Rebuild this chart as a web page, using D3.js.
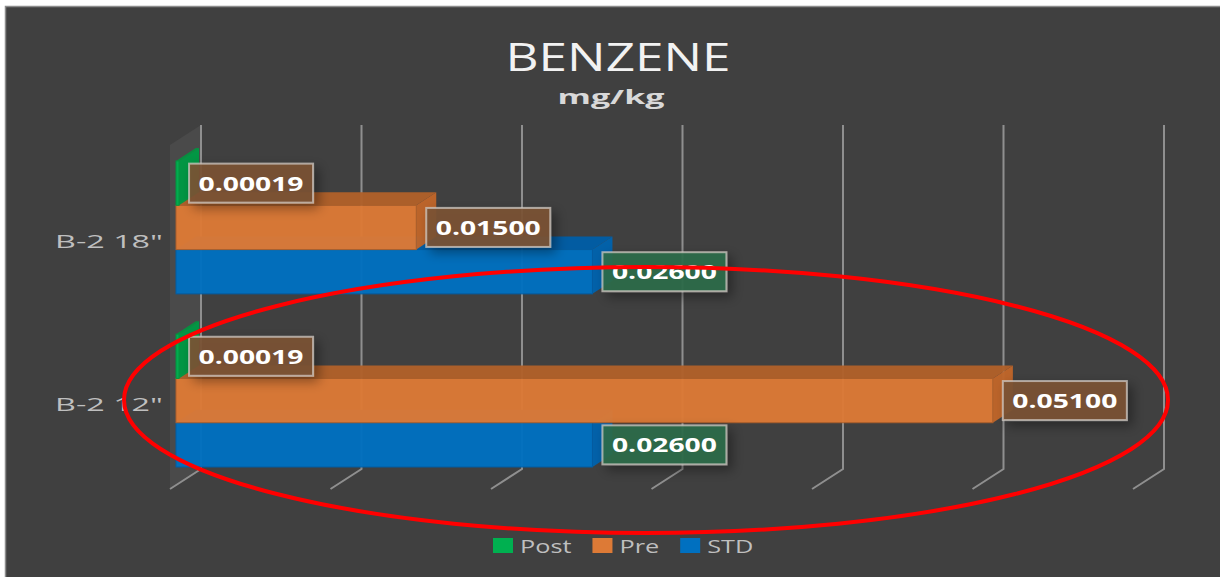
<!DOCTYPE html>
<html>
<head>
<meta charset="utf-8">
<script src="https://cdn.jsdelivr.net/npm/d3@7"></script>
<style>
body { margin: 0; background: #ffffff; }
text { font-family: "Open Sans", "DejaVu Sans", sans-serif; }
</style>
</head>
<body>
<svg id="chart" width="1220" height="577"></svg>
<script>
//Chart data
var categories = ['B-2 18"', 'B-2 12"'];
var series = ["Post", "Pre", "STD"];
var postValues = [0.00019, 0.00019];
var preValues = [0.015, 0.051];
var stdValues = [0.026, 0.026];
var valueDomain = [0, 0.06];
var chartTitle = "BENZENE";
var chartUnit = "mg/kg";

var seriesValues = { Post: postValues, Pre: preValues, STD: stdValues };
//front, top, side and label colours per series
var seriesColors = {
    Post: { front: "#00b050", top: "#00963f", side: "#009a44", label: "#7b5134" },
    Pre: { front: "#dd7a36", top: "#b1612a", side: "#c0662a", label: "#7b5134" },
    STD: { front: "#0070c0", top: "#005ea6", side: "#0063ae", label: "#2e6b4b" }
};

var svg = d3.select("#chart");

//background panel
svg.append("rect").attr("x", 5.5).attr("y", 6.5).attr("width", 1220).attr("height", 577)
    .attr("fill", "#404040").attr("stroke", "#8c8c8c").attr("stroke-width", 1.5);

//label shadow
var defs = svg.append("defs");
defs.append("filter").attr("id", "shadow").attr("x", "-20%").attr("y", "-40%").attr("width", "150%").attr("height", "200%")
    .append("feDropShadow").attr("dx", 5).attr("dy", 5).attr("stdDeviation", 6)
    .attr("flood-color", "#000").attr("flood-opacity", 0.4);

//scales: back wall for gridlines, front plane for bars
var depthX = 31, depthY = 20;      // floor depth
var barDX = 20, barDY = -13;       // bar depth
var xBack = d3.scaleLinear().domain(valueDomain).range([201, 1164]);
var xBar = d3.scaleLinear().domain(valueDomain).range([176, 1137]);
var yCat = d3.scaleBand().domain(categories).range([161, 467]).paddingInner(0.2326).paddingOuter(0);
var ySer = d3.scaleBand().domain(series).range([0, yCat.bandwidth()]);
var yLabel = d3.scalePoint().domain(categories).range([241, 404]);
var fmt = d3.format(".5f");

var wallTop = 125, wallBottom = 469;

//side wall
svg.append("path")
    .attr("d", "M" + xBack(0) + "," + wallTop + "L" + xBack(0) + "," + wallBottom +
        "L" + (xBack(0) - depthX) + "," + (wallBottom + depthY) + "L" + (xBack(0) - depthX) + "," + (wallTop + depthY) + "Z")
    .attr("fill", "#4a4a4a");

//gridlines
svg.append("g").selectAll("path").data(xBack.ticks(6)).enter().append("path")
    .attr("d", function(t) {
        var x = xBack(t);
        return "M" + x + "," + wallTop + "L" + x + "," + wallBottom + "L" + (x - depthX) + "," + (wallBottom + depthY);
    })
    .attr("fill", "none").attr("stroke", "#8f8f8f").attr("stroke-width", 2);

//bars, bottom series first so upper bars cover the top faces below
var bars = [];
categories.forEach(function(c, i) {
    series.slice().reverse().forEach(function(s) {
        bars.push({ cat: c, ser: s, value: seriesValues[s][i] });
    });
});

var barG = svg.append("g");
bars.forEach(function(d) {
    var x0 = xBar(0), x1 = xBar(d.value);
    var y0 = yCat(d.cat) + ySer(d.ser), h = ySer.bandwidth();
    var col = seriesColors[d.ser];
    var g = barG.append("g").attr("opacity", 0.96);
    g.append("path")
        .attr("d", "M" + x0 + "," + y0 + "L" + x1 + "," + y0 + "L" + (x1 + barDX) + "," + (y0 + barDY) + "L" + (x0 + barDX) + "," + (y0 + barDY) + "Z")
        .attr("fill", col.top);
    g.append("path")
        .attr("d", "M" + x1 + "," + y0 + "L" + x1 + "," + (y0 + h) + "L" + (x1 + barDX) + "," + (y0 + h + barDY) + "L" + (x1 + barDX) + "," + (y0 + barDY) + "Z")
        .attr("fill", col.side);
    g.append("rect").attr("x", x0).attr("y", y0).attr("width", x1 - x0).attr("height", h)
        .attr("fill", col.front).attr("stroke", col.top).attr("stroke-width", 1);
});

//data labels
var labelG = svg.append("g");
bars.forEach(function(d) {
    var bx = xBar(d.value) + 10, w = 124, hh = 39;
    var cy = yCat(d.cat) + ySer(d.ser) + ySer.bandwidth() / 2;
    labelG.append("rect").attr("x", bx).attr("y", cy - hh / 2).attr("width", w).attr("height", hh)
        .attr("fill", seriesColors[d.ser].label).attr("fill-opacity", 0.92)
        .attr("stroke", "#cfc8c2").attr("stroke-opacity", 0.75).attr("stroke-width", 2)
        .attr("filter", "url(#shadow)");
    labelG.append("text").attr("x", bx + w / 2).attr("y", cy + 7.5)
        .attr("text-anchor", "middle").attr("fill", "#ffffff")
        .attr("font-family", "'DejaVu Sans', sans-serif").attr("font-weight", "bold").attr("font-size", 20)
        .attr("textLength", 105).attr("lengthAdjust", "spacingAndGlyphs")
        .text(fmt(d.value));
});

//category labels
svg.append("g").selectAll("text").data(categories).enter().append("text")
    .attr("x", 163).attr("y", function(c) { return yLabel(c) + 7; })
    .attr("text-anchor", "end").attr("fill", "#bfbfbf").attr("font-size", 19)
    .attr("textLength", 108).attr("lengthAdjust", "spacingAndGlyphs")
    .text(function(c) { return c; });

//title
svg.append("text").attr("x", 618).attr("y", 71).attr("text-anchor", "middle")
    .attr("fill", "#f2f2f2").attr("font-size", 38).attr("font-weight", 400)
    .attr("textLength", 225).attr("lengthAdjust", "spacingAndGlyphs")
    .text(chartTitle);
svg.append("text").attr("x", 611).attr("y", 104).attr("text-anchor", "middle")
    .attr("fill", "#d9d9d9").attr("font-size", 20).attr("font-weight", "bold")
    .attr("textLength", 107).attr("lengthAdjust", "spacingAndGlyphs")
    .text(chartUnit);

//legend: square, gap, stretched text, gap
var legendG = svg.append("g");
var lx = 493;
series.forEach(function(s) {
    legendG.append("rect").attr("x", lx).attr("y", 538).attr("width", 20).attr("height", 15)
        .attr("fill", seriesColors[s].front);
    var t = legendG.append("text").attr("x", lx + 27).attr("y", 553)
        .attr("fill", "#bfbfbf").attr("font-size", 19).text(s);
    var tw = t.node().getComputedTextLength() * 1.33;
    t.attr("textLength", tw).attr("lengthAdjust", "spacingAndGlyphs");
    lx += 27 + tw + 21;
});

//red annotation ellipse
svg.append("ellipse").attr("cx", 646).attr("cy", 400).attr("rx", 522).attr("ry", 133)
    .attr("fill", "none").attr("stroke", "#ff0000").attr("stroke-width", 4);
</script>
</body>
</html>
